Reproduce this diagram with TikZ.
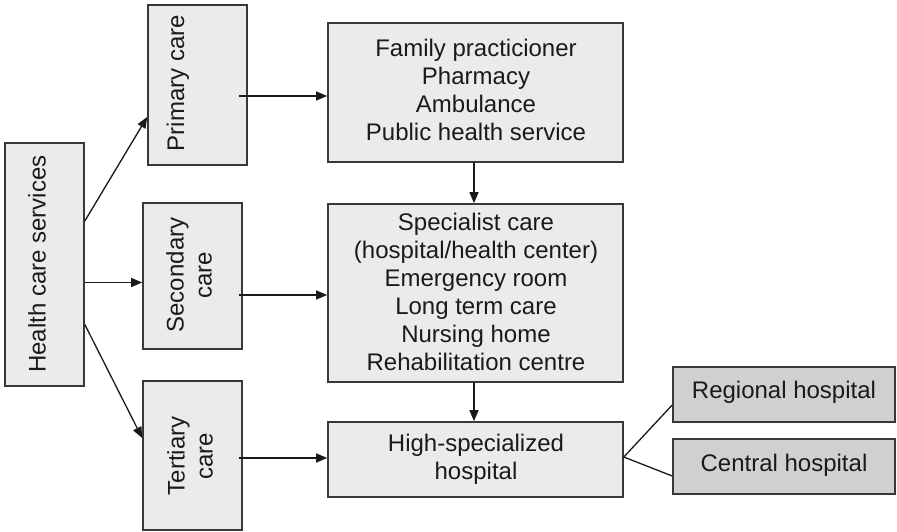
\documentclass[tikz,border=0pt]{standalone}
\usepackage{fontspec}
\setmainfont{Liberation Sans}
\usetikzlibrary{arrows.meta,calc}
\definecolor{boxlight}{HTML}{EBEBEB}
\definecolor{boxdark}{HTML}{D0D0D0}
\definecolor{edge}{HTML}{383838}
\definecolor{ink}{HTML}{1A1A1A}
\tikzset{
  box/.style={draw=edge, line width=1.6pt, fill=boxlight, inner sep=0pt},
  darkbox/.style={box, fill=boxdark},
  txt/.style={text=ink, font=\fontsize{24}{28}\selectfont, align=center, inner sep=0pt},
  vtxt/.style={txt, rotate=90},
  arr/.style={draw=ink, line width=1.3pt, -{Triangle[length=11pt,width=9pt]}},
  ln/.style={draw=ink, line width=1.3pt}
}
\begin{document}
\begin{tikzpicture}[x=1pt,y=-1pt]
\useasboundingbox (0,0) rectangle (897,531);
% boxes
\node[box, minimum width=79pt, minimum height=243pt] (hcs) at (44.5,264.5) {};
\node[vtxt] (hcst) at (37,264) {Health care services};
\node[box, minimum width=99pt, minimum height=160pt] (primary) at (197.5,85) {};
\node[vtxt] (primt) at (178,83) {Primary care};
\node[box, minimum width=99pt, minimum height=146pt] (secondary) at (192.5,276) {};
\node[vtxt] (sect) at (189,275) {Secondary\\care};
\node[box, minimum width=99pt, minimum height=149pt] (tertiary) at (192.5,455.5) {};
\node[vtxt] (tert) at (190,456) {Tertiary\\care};
\node[box, minimum width=295pt, minimum height=139pt] (family) at (475.5,92.5) {};
\node[txt] (famt) at (476,90) {Family practicioner\\Pharmacy\\Ambulance\\Public health service};
\node[box, minimum width=295pt, minimum height=178pt] (specialist) at (475.5,293) {};
\node[txt] (spect) at (476,292) {Specialist care\\(hospital/health center)\\Emergency room\\Long term care\\Nursing home\\Rehabilitation centre};
\node[box, minimum width=295pt, minimum height=75pt] (high) at (475.5,459.5) {};
\node[txt] (hight) at (476,459) {High-specialized\\hospital};
\node[darkbox, minimum width=222pt, minimum height=55pt] (regional) at (784,394.5) {};
\node[txt] (regt) at (784,392) {Regional hospital};
\node[darkbox, minimum width=222pt, minimum height=55pt] (central) at (784,466.5) {};
\node[txt] (cent) at (784,465) {Central hospital};
% connectors
\draw[arr] ($(hcs.east)+(0,-43.5)$) -- ($(primary.west)+(0,32)$);
\draw[arr] ($(hcs.east)+(0,18)$) coordinate (h2) -- (h2 -| secondary.west);
\draw[arr] ($(hcs.east)+(0,60)$) -- ($(tertiary.west)+(0,-17.5)$);
\draw[arr] ($(primary.east)+(-9,11)$) coordinate (p1) -- (p1 -| family.west);
\draw[arr] ($(secondary.east)+(-4,19)$) coordinate (s1) -- (s1 -| specialist.west);
\draw[arr] ($(tertiary.east)+(-4,2.5)$) coordinate (t1) -- (t1 -| high.west);
\draw[arr] ($(family.south)+(-1.5,0)$) -- ($(specialist.north)+(-1.5,0)$);
\draw[arr] ($(specialist.south)+(-1.5,0)$) -- ($(high.north)+(-1.5,0)$);
\draw[ln] ($(regional.west)+(0,10.5)$) -- ($(high.east)+(0,-2.5)$) -- ($(central.west)+(0,9.5)$);
\end{tikzpicture}
\end{document}
